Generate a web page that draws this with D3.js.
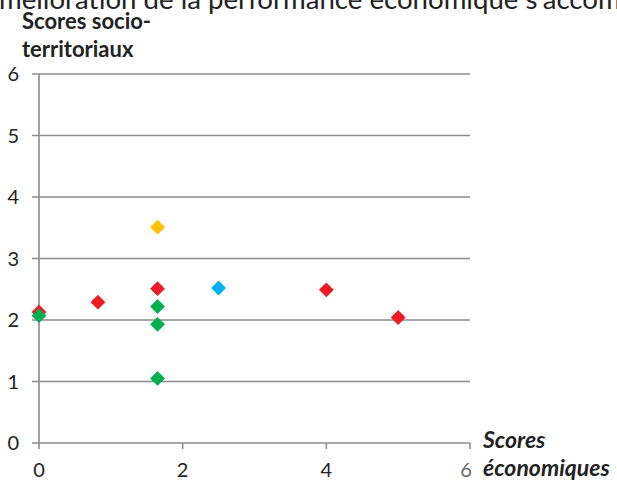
<!DOCTYPE html>
<html><head><meta charset="utf-8">
<script src="https://cdn.jsdelivr.net/npm/d3@7"></script>
<style>html,body{margin:0;padding:0;background:#fff;overflow:hidden}</style>
</head><body><svg id="c" width="617" height="482"></svg>
<script>
// Data
const seriesNames = ["rouge", "vert", "jaune", "bleu"];
const seriesColors = ["#ED1C24", "#00B050", "#FFC000", "#00B0F0"];
const redX = [0, 0.82, 1.65, 4.0, 5.0];
const redY = [2.13, 2.29, 2.51, 2.49, 2.04];
const greenX = [0, 1.65, 1.65, 1.65];
const greenY = [2.07, 2.22, 1.93, 1.05];
const yellowX = [1.65];
const yellowY = [3.51];
const blueX = [2.5];
const blueY = [2.52];
const xTicks = [0, 2, 4, 6];
const yTicks = [0, 1, 2, 3, 4, 5, 6];
const titleText = "amélioration de la performance économique s'accompagne";
const yTitle = ["Scores socio-", "territoriaux"];
const xTitle = ["Scores", "économiques"];

const series = [
  {name: seriesNames[0], color: seriesColors[0], xs: redX, ys: redY},
  {name: seriesNames[1], color: seriesColors[1], xs: greenX, ys: greenY},
  {name: seriesNames[2], color: seriesColors[2], xs: yellowX, ys: yellowY},
  {name: seriesNames[3], color: seriesColors[3], xs: blueX, ys: blueY}
];

const svg = d3.select("#c");
const x = d3.scaleLinear().domain([0, 6]).range([39, 470]);
const y = d3.scaleLinear().domain([0, 6]).range([443, 74]);
const grid = "#8c8c8c";
const font = "Lato, 'Open Sans', sans-serif";

// Title (cut at top and right, as in the source page)
const title = svg.append("text").attr("y", 9)
  .attr("font-family", font).attr("font-size", 24).attr("fill", "#222")
  .text(titleText);
{
  const n = title.node();
  const a = n.getSubStringLength(0, 1);
  const vis = n.getSubStringLength(1, "mélioration de la performance économique s'accom".length);
  const k = 622 / vis;
  title.attr("font-size", 24 * k).attr("x", -a * k - 1);
}

// Horizontal gridlines
svg.append("g").selectAll("line").data(yTicks).join("line")
  .attr("x1", 32).attr("x2", x(6))
  .attr("y1", d => y(d)).attr("y2", d => y(d))
  .attr("stroke", grid).attr("stroke-width", 1.6);

// Y axis line
svg.append("line").attr("x1", x(0)).attr("x2", x(0))
  .attr("y1", y(6)).attr("y2", y(0) + 6)
  .attr("stroke", grid).attr("stroke-width", 1.6);

// X axis ticks
svg.append("g").selectAll("line").data(xTicks.filter(d => d > 0)).join("line")
  .attr("x1", d => x(d)).attr("x2", d => x(d))
  .attr("y1", y(0)).attr("y2", y(0) + 6)
  .attr("stroke", grid).attr("stroke-width", 1.6);

// Y tick labels
svg.append("g").selectAll("text").data(yTicks).join("text")
  .attr("x", 19).attr("y", d => y(d) + 7)
  .attr("text-anchor", "end")
  .attr("font-family", font).attr("font-size", 20).attr("fill", "#222")
  .text(d => d);

// X tick labels
svg.append("g").selectAll("text").data(xTicks).join("text")
  .attr("x", d => x(d) - (d === 6 ? 4 : 0)).attr("y", 477)
  .attr("text-anchor", "middle")
  .attr("font-family", font).attr("font-size", 20)
  .attr("fill", d => d === 6 ? "#666" : "#222")
  .text(d => d);

// Axis titles
svg.append("g").selectAll("text").data(yTitle).join("text")
  .attr("x", 22).attr("y", (d, i) => 29 + i * 28)
  .attr("font-family", font).attr("font-weight", "bold").attr("font-size", 22).attr("fill", "#222")
  .text(d => d);
svg.append("g").selectAll("text").data(xTitle).join("text")
  .attr("x", 483).attr("y", (d, i) => 448 + i * 28)
  .attr("font-family", font).attr("font-weight", "bold").attr("font-style", "italic")
  .attr("font-size", 23).attr("fill", "#222")
  .text(d => d);

// Points
const sym = d3.symbol().type(d3.symbolSquare).size(110);
series.forEach(s => {
  const pts = s.xs.map((v, i) => ({x: v, y: s.ys[i]}));
  svg.append("g").selectAll("path").data(pts).join("path")
    .attr("d", sym)
    .attr("transform", d => `translate(${x(d.x)},${y(d.y)}) rotate(45)`)
    .attr("fill", s.color);
});
</script></body></html>
